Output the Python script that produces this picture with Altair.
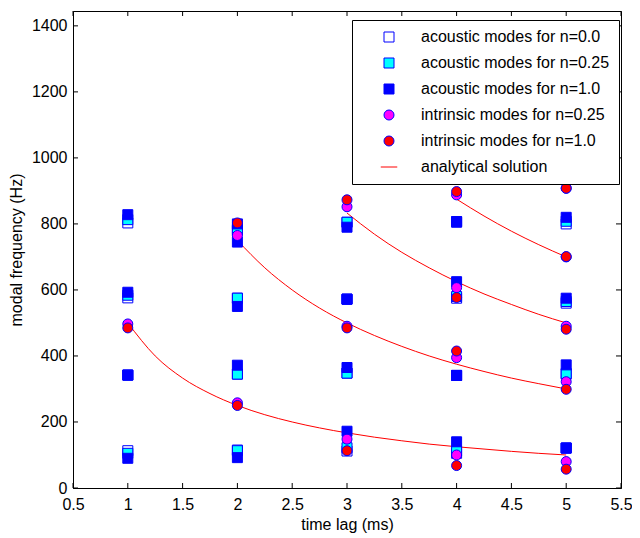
import altair as alt
import pandas as pd

FONT = "Liberation Sans"

SERIES = [
    "acoustic modes for n=0.0",
    "acoustic modes for n=0.25",
    "acoustic modes for n=1.0",
    "intrinsic modes for n=0.25",
    "intrinsic modes for n=1.0",
    "analytical solution",
]

# acoustic modes, n = 0.0 (white squares)
ac0_t = [1, 1, 1, 1, 2, 2, 2, 2, 3, 3, 3, 3, 4, 4, 4, 4, 5, 5, 5, 5]
ac0_f = [803, 576, 342, 113, 780, 575, 345, 115, 805, 572, 348, 112, 805, 575, 341, 105, 800, 560, 345, 121]

# acoustic modes, n = 0.25 (cyan squares)
ac25_t = [1, 1, 1, 1, 2, 2, 2, 2, 3, 3, 3, 3, 4, 4, 4, 4, 5, 5, 5, 5]
ac25_f = [813, 584, 342, 105, 783, 575, 345, 113, 805, 572, 348, 122, 807, 580, 341, 112, 808, 565, 347, 121]

# acoustic modes, n = 1.0 (blue squares)
ac1_t = [1, 1, 1, 1, 2, 2, 2, 2, 2, 3, 3, 3, 3, 4, 4, 4, 4, 5, 5, 5, 5]
ac1_f = [828, 593, 342, 90, 800, 745, 550, 372, 92, 790, 572, 365, 172, 807, 625, 341, 140, 820, 575, 373, 121]

# intrinsic modes, n = 0.25 (magenta circles)
in25_t = [1, 2, 2, 3, 3, 3, 4, 4, 4, 4, 5, 5, 5, 5, 5]
in25_f = [497, 765, 258, 852, 490, 148, 888, 607, 395, 100, 908, 700, 490, 322, 80]

# intrinsic modes, n = 1.0 (red circles)
in1_t = [1, 2, 2, 3, 3, 3, 4, 4, 4, 4, 5, 5, 5, 5, 5]
in1_f = [485, 803, 250, 873, 485, 113, 898, 577, 415, 68, 908, 701, 481, 299, 57]

# analytical solution curves
c1_t = [1, 1.25, 1.5, 1.75, 2, 2.25, 2.5, 2.75, 3, 3.25, 3.5, 3.75, 4, 4.25, 4.5, 4.75, 5]
c1_f = [500, 400, 333, 286, 250, 222, 200, 182, 167, 154, 143, 133, 125, 118, 111, 105, 100]
c2_t = [2, 2.25, 2.5, 2.75, 3, 3.25, 3.5, 3.75, 4, 4.25, 4.5, 4.75, 5]
c2_f = [750, 667, 600, 545, 500, 462, 429, 400, 375, 353, 333, 316, 300]
c3_t = [3, 3.25, 3.5, 3.75, 4, 4.25, 4.5, 4.75, 5]
c3_f = [833, 769, 714, 667, 625, 588, 556, 526, 500]
c4_t = [4, 4.25, 4.5, 4.75, 5]
c4_f = [875, 824, 778, 737, 700]

x_ticks = [0.5, 1, 1.5, 2, 2.5, 3, 3.5, 4, 4.5, 5, 5.5]
y_ticks = [0, 200, 400, 600, 800, 1000, 1200, 1400]

W, H = 548, 477

rows = []
for name, ts, fs in [
    (SERIES[0], ac0_t, ac0_f),
    (SERIES[1], ac25_t, ac25_f),
    (SERIES[2], ac1_t, ac1_f),
    (SERIES[3], in25_t, in25_f),
    (SERIES[4], in1_t, in1_f),
]:
    for t, f in zip(ts, fs):
        rows.append({"t": t, "f": f, "series": name})
points_df = pd.DataFrame(rows)

lrows = []
for cid, (ts, fs) in enumerate([(c1_t, c1_f), (c2_t, c2_f), (c3_t, c3_f), (c4_t, c4_f)]):
    for t, f in zip(ts, fs):
        lrows.append({"t": t, "f": f, "curve": cid, "series": SERIES[5]})
lines_df = pd.DataFrame(lrows)

xscale = alt.Scale(domain=[0.5, 5.5], nice=False, zero=False)
yscale = alt.Scale(domain=[0, 1445], nice=False)

xaxis = alt.Axis(values=x_ticks, format="~g", ticks=False, grid=False, domain=True,
                 domainColor="black", labelFont=FONT, labelFontSize=16, labelColor="black",
                 labelPadding=8, title="time lag (ms)", titleFont=FONT, titleFontSize=16,
                 titleFontWeight="normal", titleColor="black", titlePadding=4, labelFlush=False)
yaxis = alt.Axis(values=y_ticks, format="d", ticks=False, grid=False, domain=True,
                 domainColor="black", labelFont=FONT, labelFontSize=16, labelColor="black",
                 labelPadding=6, title="modal frequency (Hz)", titleFont=FONT, titleFontSize=16,
                 titleFontWeight="normal", titleColor="black", titlePadding=7, labelFlush=False)

leg = alt.Legend(title=None, orient="none", legendX=279, legendY=9, strokeColor="black",
                 fillColor="white", padding=9, symbolOffset=20, labelOffset=24,
                 labelFontSize=16, labelFont=FONT, labelColor="black", symbolStrokeWidth=1,
                 rowPadding=10, labelLimit=300)

# the last shape is a horizontal line path, used by the legend entry of the analytical curves
shape_scale = alt.Scale(domain=SERIES,
                        range=["square", "square", "square", "circle", "circle", "M-1.65,0H1.65"])
fill_scale = alt.Scale(domain=SERIES, range=["white", "cyan", "blue", "magenta", "red", "transparent"])
stroke_scale = alt.Scale(domain=SERIES, range=["blue", "blue", "blue", "blue", "blue", "red"])
size_scale = alt.Scale(domain=SERIES, range=[100, 100, 100, 80, 80, 100])

lines = alt.Chart(lines_df).mark_line(strokeWidth=1, interpolate="monotone").encode(
    x=alt.X("t:Q", scale=xscale, axis=xaxis),
    y=alt.Y("f:Q", scale=yscale, axis=yaxis),
    stroke=alt.Stroke("series:N", scale=stroke_scale, legend=leg),
    detail="curve:N",
)

points = alt.Chart(points_df).mark_point(opacity=1, strokeWidth=1).encode(
    x=alt.X("t:Q", scale=xscale, axis=xaxis),
    y=alt.Y("f:Q", scale=yscale, axis=yaxis),
    shape=alt.Shape("series:N", scale=shape_scale, legend=leg),
    fill=alt.Fill("series:N", scale=fill_scale, legend=leg),
    stroke=alt.Stroke("series:N", scale=stroke_scale, legend=leg),
    size=alt.Size("series:O", scale=size_scale, legend=leg),
)

xt = pd.DataFrame({"t": x_ticks})
yt = pd.DataFrame({"f": y_ticks})
tick_bottom = alt.Chart(xt).mark_rule(color="black", strokeWidth=1).encode(
    x=alt.X("t:Q", scale=xscale, axis=xaxis), y=alt.value(H), y2=alt.value(H - 5))
tick_top = alt.Chart(xt).mark_rule(color="black", strokeWidth=1).encode(
    x=alt.X("t:Q", scale=xscale, axis=xaxis), y=alt.value(0), y2=alt.value(5))
tick_left = alt.Chart(yt).mark_rule(color="black", strokeWidth=1).encode(
    y=alt.Y("f:Q", scale=yscale, axis=yaxis), x=alt.value(0), x2=alt.value(5))
tick_right = alt.Chart(yt).mark_rule(color="black", strokeWidth=1).encode(
    y=alt.Y("f:Q", scale=yscale, axis=yaxis), x=alt.value(W), x2=alt.value(W - 5))

chart = alt.layer(lines, points, tick_bottom, tick_top, tick_left, tick_right).properties(
    width=W, height=H,
    autosize=alt.AutoSizeParams(type="none"),
    padding={"left": 65, "top": 3, "right": 11, "bottom": 45},
    background="white",
).configure_view(stroke="black", strokeWidth=1)

chart.save("out.html", embed_options={"renderer": "svg", "actions": False})
